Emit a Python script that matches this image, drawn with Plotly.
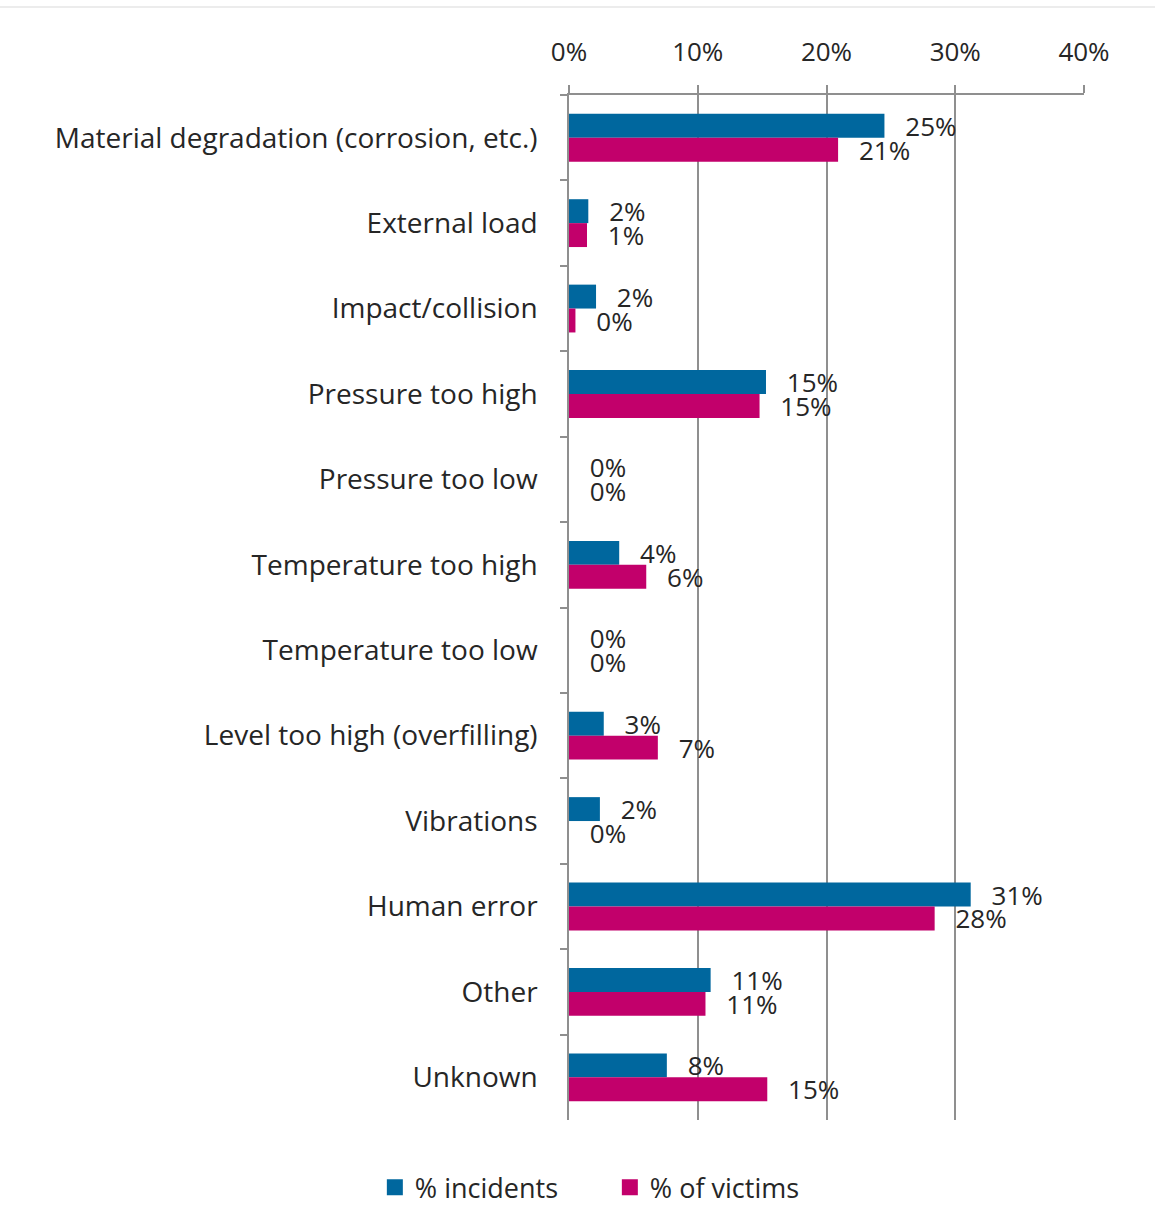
import plotly.graph_objects as go

categories = [
    "Material degradation (corrosion, etc.)",
    "External load",
    "Impact/collision",
    "Pressure too high",
    "Pressure too low",
    "Temperature too high",
    "Temperature too low",
    "Level too high (overfilling)",
    "Vibrations",
    "Human error",
    "Other",
    "Unknown",
]
incidents = [24.5, 1.5, 2.1, 15.3, 0, 3.9, 0, 2.7, 2.4, 31.2, 11.0, 7.6]
victims = [20.9, 1.4, 0.5, 14.8, 0, 6.0, 0, 6.9, 0, 28.4, 10.6, 15.4]
incidents_labels = ["25%", "2%", "2%", "15%", "0%", "4%", "0%", "3%", "2%", "31%", "11%", "8%"]
victims_labels = ["21%", "1%", "0%", "15%", "0%", "6%", "0%", "7%", "0%", "28%", "11%", "15%"]
x_ticks = [0, 10, 20, 30, 40]
x_tick_labels = ["0%", "10%", "20%", "30%", "40%"]

BLUE = "#00679E"
MAGENTA = "#C2006B"
FONT = "Open Sans"
TXT = "#262626"
GRID = "#8f8f8f"
pad = "\u00a0\u00a0\u2009"

fig = go.Figure()
fig.add_trace(go.Bar(
    y=categories, x=incidents, orientation="h", name="% incidents",
    marker=dict(color=BLUE, line=dict(width=0)),
    text=[pad + t for t in incidents_labels], textposition="outside",
    textfont=dict(family=FONT, size=26, color=TXT), cliponaxis=False,
    constraintext="none", showlegend=False,
))
fig.add_trace(go.Bar(
    y=categories, x=victims, orientation="h", name="% of victims",
    marker=dict(color=MAGENTA, line=dict(width=0)),
    text=[pad + t for t in victims_labels], textposition="outside",
    textfont=dict(family=FONT, size=26, color=TXT), cliponaxis=False,
    constraintext="none", showlegend=False,
))
# legend entries
fig.add_trace(go.Scatter(x=[None], y=[None], mode="markers", name="% incidents",
                         marker=dict(symbol="square", size=16, color=BLUE)))
fig.add_trace(go.Scatter(x=[None], y=[None], mode="markers", name="% of victims",
                         marker=dict(symbol="square", size=16, color=MAGENTA)))

fig.update_layout(
    width=1155, height=1209,
    margin=dict(l=569, r=71, t=95, b=89, autoexpand=False),
    paper_bgcolor="white", plot_bgcolor="white",
    barmode="group", bargap=0.44, bargroupgap=0,
    font=dict(family=FONT, size=26, color=TXT),
    legend=dict(orientation="h", x=-0.377, xanchor="left", y=-0.066, yanchor="middle",
                font=dict(family=FONT, size=27, color=TXT), itemsizing="trace",
                entrywidth=190, entrywidthmode="pixels"),
    xaxis=dict(
        side="top", range=[0, 40], tickvals=x_ticks, ticktext=x_tick_labels,
        showgrid=True, gridcolor=GRID, gridwidth=1.5,
        showline=True, linecolor=GRID, linewidth=1.5,
        ticks="outside", ticklen=8, tickcolor=GRID, tickwidth=1.5,
        ticklabelstandoff=14, zeroline=False,
        tickfont=dict(family=FONT, size=26, color=TXT),
    ),
    yaxis=dict(
        type="category", autorange="reversed",
        showline=True, linecolor=GRID, linewidth=1.5,
        ticks="outside", ticklen=7, tickcolor=GRID, tickwidth=1.5,
        tickson="boundaries", ticklabelstandoff=24,
        tickfont=dict(family=FONT, size=28, color=TXT),
    ),
    shapes=[dict(type="line", xref="paper", yref="paper",
                 x0=-1.2, x1=1.2, y0=1.0859, y1=1.0859,
                 line=dict(color="#e6e6e6", width=1.5))],
)

fig.write_html("out.html")
